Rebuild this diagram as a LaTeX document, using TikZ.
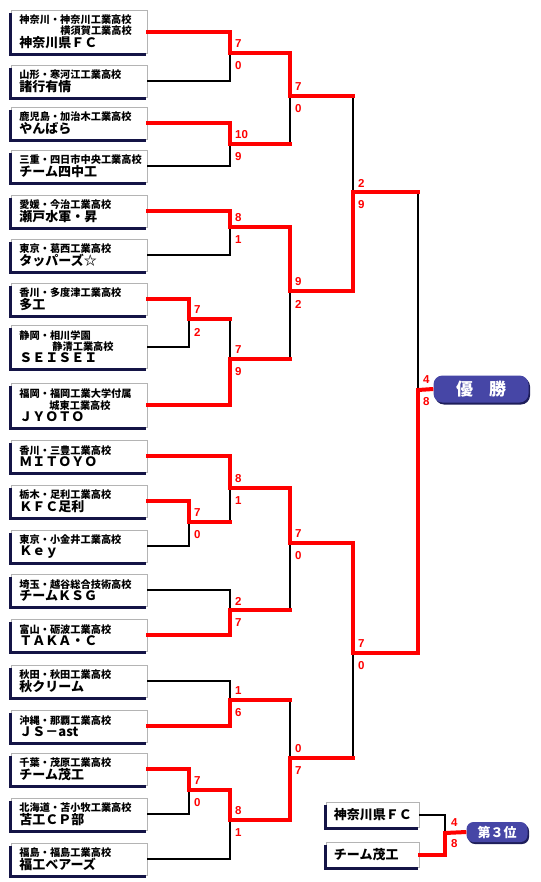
\documentclass[tikz,border=0pt]{standalone}
\usepackage{fontspec}
\setmainfont{Noto Sans CJK JP}
\newfontfamily\scf{Liberation Sans}
\usetikzlibrary{shadows}
\setlength{\parindent}{0pt}
\definecolor{navy}{HTML}{141446}
\definecolor{lbl}{HTML}{4646A6}
\definecolor{lblsh}{HTML}{1E1E5A}
\definecolor{bxgray}{HTML}{B4B4B4}
\definecolor{wred}{HTML}{FF0000}
\newcommand\smtx{\bfseries\fontsize{10.2}{11.5}\selectfont}
\newcommand\bigtx{\bfseries\fontsize{13}{15.5}\selectfont}
\tikzset{
  W/.style={draw=wred, line width=4pt, line cap=rect},
  L/.style={draw=black, line width=2pt, line cap=rect},
  team/.style={draw=bxgray, line width=0.8pt, fill=white, anchor=north west,
    minimum width=136pt, text width=120pt, inner xsep=8pt, inner ysep=0pt, align=left},
  tteam/.style={team, minimum width=93pt, text width=78pt, inner xsep=7.5pt},
  sc/.style={text=wred, font={\scf\bfseries\fontsize{11.5}{12}\selectfont}, inner sep=0pt, anchor=west},
  ttl/.style={fill=lbl, text=white, rounded corners=9pt, inner sep=0pt,
    drop shadow={shadow xshift=1.5pt, shadow yshift=-2pt, fill=lblsh, opacity=1}},
}
\begin{document}
\begin{tikzpicture}[x=1pt,y=-1pt]
\useasboundingbox[fill=white] (0,0) rectangle (540,882);

% team boxes
\node[team, minimum height=43pt] (b1) at (11,10) {\smtx 神奈川・神奈川工業高校\par\hspace*{41pt}横須賀工業高校\par\bigtx 神奈川県ＦＣ};
\node[team, minimum height=32pt] (b2) at (11,65) {\smtx 山形・寒河江工業高校\par\bigtx 諸行有情};
\node[team, minimum height=32pt] (b3) at (11,107) {\smtx 鹿児島・加治木工業高校\par\bigtx やんばら};
\node[team, minimum height=32pt] (b4) at (11,150) {\smtx 三重・四日市中央工業高校\par\bigtx チーム四中工};
\node[team, minimum height=32pt] (b5) at (11,195) {\smtx 愛媛・今治工業高校\par\bigtx 瀬戸水軍・昇};
\node[team, minimum height=32pt] (b6) at (11,239) {\smtx 東京・葛西工業高校\par\bigtx タッパーズ☆};
\node[team, minimum height=32pt] (b7) at (11,283) {\smtx 香川・多度津工業高校\par\bigtx 多工};
\node[team, minimum height=43pt] (b8) at (11,325) {\smtx 静岡・相川学園\par\hspace*{33pt}静清工業高校\par\bigtx ＳＥＩＳＥＩ};
\node[team, minimum height=44pt] (b9) at (11,383) {\smtx 福岡・福岡工業大学付属\par\hspace*{30pt}城東工業高校\par\bigtx ＪＹＯＴＯ};
\node[team, minimum height=32pt] (b10) at (11,440) {\smtx 香川・三豊工業高校\par\bigtx ＭＩＴＯＹＯ};
\node[team, minimum height=32pt] (b11) at (11,485) {\smtx 栃木・足利工業高校\par\bigtx ＫＦＣ足利};
\node[team, minimum height=32pt] (b12) at (11,530) {\smtx 東京・小金井工業高校\par\bigtx Ｋｅｙ};
\node[team, minimum height=32pt] (b13) at (11,574) {\smtx 埼玉・越谷総合技術高校\par\bigtx チームＫＳＧ};
\node[team, minimum height=32pt] (b14) at (11,619) {\smtx 富山・砺波工業高校\par\bigtx ＴＡＫＡ・Ｃ};
\node[team, minimum height=32pt] (b15) at (11,665) {\smtx 秋田・秋田工業高校\par\bigtx 秋クリーム};
\node[team, minimum height=32pt] (b16) at (11,710) {\smtx 沖縄・那覇工業高校\par\bigtx ＪＳ－ast};
\node[team, minimum height=32pt] (b17) at (11,753) {\smtx 千葉・茂原工業高校\par\bigtx チーム茂工};
\node[team, minimum height=32pt] (b18) at (11,798) {\smtx 北海道・苫小牧工業高校\par\bigtx 苫工ＣＰ部};
\node[team, minimum height=32pt] (b19) at (11,843) {\smtx 福島・福島工業高校\par\bigtx 福工ベアーズ};
\node[tteam, minimum height=25pt] (t1) at (326,802) {\bigtx 神奈川県ＦＣ};
\node[tteam, minimum height=25pt] (t2) at (326,842) {\bigtx チーム茂工};

\foreach \bx in {b1,b2,b3,b4,b5,b6,b7,b8,b9,b10,b11,b12,b13,b14,b15,b16,b17,b18,b19,t1,t2}
  \draw[navy, line width=2.5pt] ([shift={(-0.5,3)}]\bx.north west) -- ([shift={(-0.5,0.8)}]\bx.south west) -- ([shift={(-2,0.8)}]\bx.south east);

% title labels
\node[ttl, minimum width=95pt, minimum height=27pt, font={\bfseries\fontsize{17}{17}\selectfont}] (win) at (481,389) {優\hspace{16pt}勝};
\node[ttl, rounded corners=7pt, minimum width=61pt, minimum height=20pt, font={\bfseries\fontsize{13}{13}\selectfont}] (third) at (497,832) {第３位};

% junctions
\coordinate (mA) at (230,53);
\coordinate (mB) at (230,144);
\coordinate (mAB) at (290,96);
\coordinate (mC) at (230,227);
\coordinate (mD0) at (189,319);
\coordinate (mD) at (230,359);
\coordinate (mCD) at (290,291);
\coordinate (mT) at (353,192);
\coordinate (mE0) at (189,522);
\coordinate (mE) at (230,488);
\coordinate (mF) at (230,610);
\coordinate (mEF) at (290,543);
\coordinate (mG) at (230,700);
\coordinate (mH0) at (189,790);
\coordinate (mH) at (230,820);
\coordinate (mGH) at (290,758);
\coordinate (mBt) at (353,653);
\coordinate (mFin) at (418,390);
\coordinate (m3) at (445,833);

% losing lines
\draw[L] (b2.east) -| (mA);
\draw[L] (b4.east) -| (mB);
\draw[L] (mB -| mAB) -- (mAB);
\draw[L] (b6.east) -| (mC);
\draw[L] (b8.east) -| (mD0);
\draw[L] (mD0 -| mD) -- (mD);
\draw[L] (mD -| mCD) -- (mCD);
\draw[L] (mAB -| mT) -- (mT);
\draw[L] (mT -| mFin) -- (mFin);
\draw[L] (b12.east) -| (mE0);
\draw[L] (mE0 -| mE) -- (mE);
\draw[L] (b13.east) -| (mF);
\draw[L] (mF -| mEF) -- (mEF);
\draw[L] (b15.east) -| (mG);
\draw[L] (mG -| mGH) -- (mGH);
\draw[L] (b18.east) -| (mH0);
\draw[L] (b19.east) -| (mH);
\draw[L] (mGH -| mBt) -- (mBt);
\draw[L] (t1.east) -| (m3);

% winning lines
\draw[W] (b1.east) -| (mA);
\draw[W] (b3.east) -| (mB);
\draw[W] (mA) -| (mAB);
\draw[W] (mB) -- (mB -| mAB);
\draw[W] (b5.east) -| (mC);
\draw[W] (b7.east) -| (mD0);
\draw[W] (mD0) -- (mD0 -| mD);
\draw[W] (b9.east) -| (mD);
\draw[W] (mC) -| (mCD);
\draw[W] (mD) -- (mD -| mCD);
\draw[W] (mAB) -- (mAB -| mT);
\draw[W] (mCD) -| (mT);
\draw[W] (mT) -- (mT -| mFin);
\draw[W] (b10.east) -| (mE);
\draw[W] (b11.east) -| (mE0);
\draw[W] (mE0) -- (mE0 -| mE);
\draw[W] (mE) -| (mEF);
\draw[W] (b14.east) -| (mF);
\draw[W] (mF) -- (mF -| mEF);
\draw[W] (b16.east) -| (mG);
\draw[W] (mG) -- (mG -| mGH);
\draw[W] (b17.east) -| (mH0);
\draw[W] (mH0) -| (mH);
\draw[W] (mH) -| (mGH);
\draw[W] (mEF) -| (mBt);
\draw[W] (mGH) -- (mGH -| mBt);
\draw[W] (mBt) -| (mFin);
\draw[W, line cap=butt] (mFin) -- (win.west);
\draw[W] (t2.east) -| (m3);
\draw[W, line cap=butt] (m3) -- (third.west);

% scores
\node[sc] (sA1) at ([shift={(5,-9)}]mA) {7};
\node[sc] (sA2) at ([shift={(5,13)}]mA) {0};
\node[sc] (sB1) at ([shift={(5,-9)}]mB) {10};
\node[sc] (sB2) at ([shift={(5,13)}]mB) {9};
\node[sc] (sAB1) at ([shift={(5,-9)}]mAB) {7};
\node[sc] (sAB2) at ([shift={(5,13)}]mAB) {0};
\node[sc] (sC1) at ([shift={(5,-9)}]mC) {8};
\node[sc] (sC2) at ([shift={(5,13)}]mC) {1};
\node[sc] (sD01) at ([shift={(5,-9)}]mD0) {7};
\node[sc] (sD02) at ([shift={(5,13)}]mD0) {2};
\node[sc] (sD1) at ([shift={(5,-9)}]mD) {7};
\node[sc] (sD2) at ([shift={(5,13)}]mD) {9};
\node[sc] (sCD1) at ([shift={(5,-9)}]mCD) {9};
\node[sc] (sCD2) at ([shift={(5,13)}]mCD) {2};
\node[sc] (sT1) at ([shift={(5,-9)}]mT) {2};
\node[sc] (sT2) at ([shift={(5,13)}]mT) {9};
\node[sc] (sE01) at ([shift={(5,-9)}]mE0) {7};
\node[sc] (sE02) at ([shift={(5,13)}]mE0) {0};
\node[sc] (sE1) at ([shift={(5,-9)}]mE) {8};
\node[sc] (sE2) at ([shift={(5,13)}]mE) {1};
\node[sc] (sF1) at ([shift={(5,-9)}]mF) {2};
\node[sc] (sF2) at ([shift={(5,13)}]mF) {7};
\node[sc] (sEF1) at ([shift={(5,-9)}]mEF) {7};
\node[sc] (sEF2) at ([shift={(5,13)}]mEF) {0};
\node[sc] (sG1) at ([shift={(5,-9)}]mG) {1};
\node[sc] (sG2) at ([shift={(5,13)}]mG) {6};
\node[sc] (sH01) at ([shift={(5,-9)}]mH0) {7};
\node[sc] (sH02) at ([shift={(5,13)}]mH0) {0};
\node[sc] (sH1) at ([shift={(5,-9)}]mH) {8};
\node[sc] (sH2) at ([shift={(5,13)}]mH) {1};
\node[sc] (sGH1) at ([shift={(5,-9)}]mGH) {0};
\node[sc] (sGH2) at ([shift={(5,13)}]mGH) {7};
\node[sc] (sBt1) at ([shift={(5,-9)}]mBt) {7};
\node[sc] (sBt2) at ([shift={(5,13)}]mBt) {0};
\node[sc] (sFin1) at ([shift={(5,-10)}]mFin) {4};
\node[sc] (sFin2) at ([shift={(5,12)}]mFin) {8};
\node[sc] (s31) at ([shift={(6,-10)}]m3) {4};
\node[sc] (s32) at ([shift={(6,11)}]m3) {8};
\end{tikzpicture}
\end{document}
